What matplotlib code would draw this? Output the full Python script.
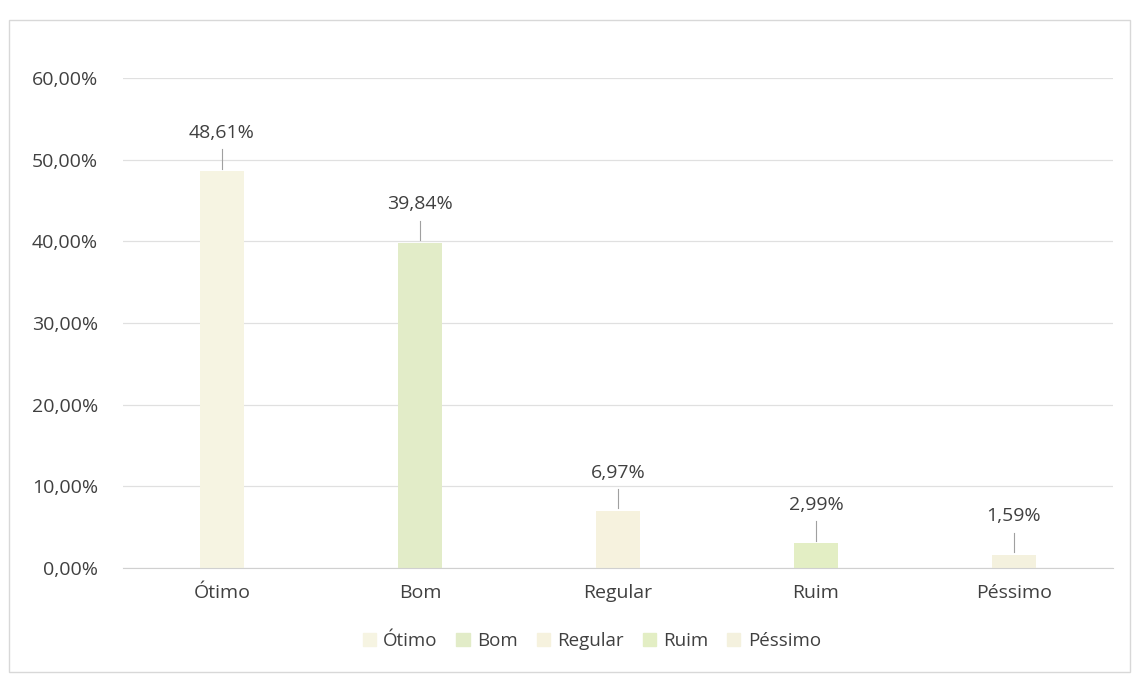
import matplotlib.pyplot as plt
from matplotlib.patches import Rectangle, Patch

categories = ["Ótimo", "Bom", "Regular", "Ruim", "Péssimo"]
values = [48.61, 39.84, 6.97, 2.99, 1.59]
value_labels = ["48,61%", "39,84%", "6,97%", "2,99%", "1,59%"]
tick_values = [0, 10, 20, 30, 40, 50, 60]
tick_labels = ["0,00%", "10,00%", "20,00%", "30,00%", "40,00%", "50,00%", "60,00%"]

colors = ["#f6f4e2", "#e2ecc8", "#f6f2de", "#e3eec4", "#f4f1de"]
text_color = "#404040"

plt.rcParams['font.family'] = ['Open Sans', 'DejaVu Sans']

fig = plt.figure(figsize=(11.38, 6.8), dpi=100)
ax = fig.add_axes([0.108, 0.165, 0.87, 0.72])

x = list(range(len(categories)))
ax.bar(x, values, width=0.22, color=colors, zorder=2)

# data labels with short leader lines
for i, v in enumerate(values):
    ax.plot([i, i], [v + 0.3, v + 2.7], color="#a0a0a0", lw=0.8, zorder=3)
    ax.text(i, v + 4.7, value_labels[i], ha="center", va="center",
            fontsize=14, color=text_color)

ax.set_xlim(-0.5, len(categories) - 0.5)
ax.set_ylim(0, 60)
ax.set_yticks(tick_values)
ax.set_yticklabels(tick_labels, fontsize=14, color=text_color)
ax.set_xticks(x)
ax.set_xticklabels(categories, fontsize=14, color=text_color)
ax.tick_params(axis="y", length=0, pad=18)
ax.tick_params(axis="x", length=0, pad=12)
ax.grid(axis="y", color="#e0e0e0", lw=0.9, zorder=0)
for s in ["top", "right", "left"]:
    ax.spines[s].set_visible(False)
ax.spines["bottom"].set_color("#d0d0d0")

handles = [Patch(color=c) for c in colors]
fig.legend(handles, categories, loc="center", bbox_to_anchor=(0.52, 0.057),
           ncol=5, frameon=False, fontsize=13.5, handlelength=0.7,
           handleheight=0.7, columnspacing=1.0, handletextpad=0.4,
           labelcolor=text_color)

# outer chart frame
fig.patches.append(Rectangle((0.008, 0.012), 0.985, 0.958, transform=fig.transFigure,
                             fill=False, edgecolor="#d8d8d8", lw=1.0))

fig.savefig("out.png", dpi=100)
